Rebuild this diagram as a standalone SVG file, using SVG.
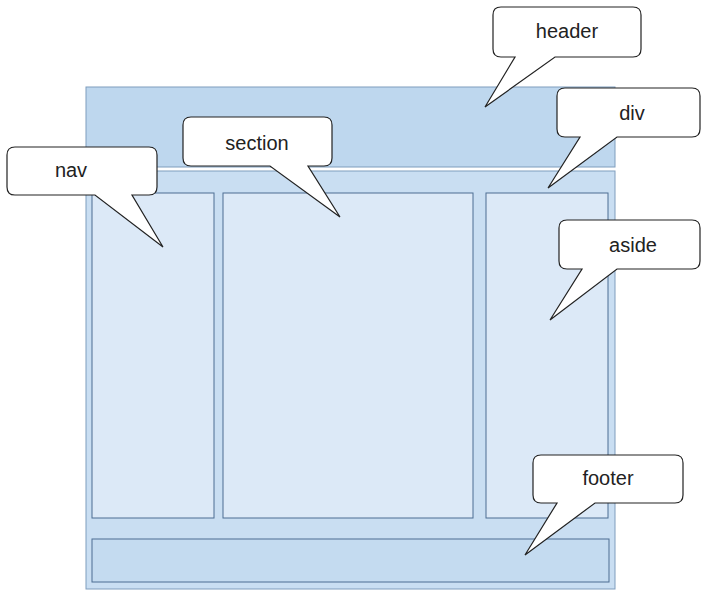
<svg xmlns="http://www.w3.org/2000/svg" width="702" height="590" viewBox="0 0 702 590">
<style>
.outer{stroke:#7f9dbd;stroke-width:1}
.col{fill:#dce9f7;stroke:#4d6d92;stroke-width:1}
.bubble{fill:#ffffff;stroke:#222222;stroke-width:1.2;stroke-linejoin:miter}
.lbl{font-family:"Liberation Sans",Arial,sans-serif;font-size:20px;fill:#222222;text-anchor:middle}
</style>
<rect width="702" height="590" fill="#ffffff"/>
<g id="body">
<rect id="header-area" class="outer" x="86" y="87" width="529" height="80" fill="#bed7ee"/>
<rect id="div-area" class="outer" x="86" y="171" width="529" height="418" fill="#c9def2"/>
<rect id="nav-col" class="col" x="92" y="193" width="122" height="325"/>
<rect id="section-col" class="col" x="223" y="193" width="250" height="325"/>
<rect id="aside-col" class="col" x="486" y="193" width="122" height="325"/>
<rect id="footer-area" x="92" y="539" width="517" height="43" fill="#c4dbf0" stroke="#4d6d92" stroke-width="1"/>
</g>
<g id="connectors"></g>
<g id="header">
<path class="bubble" d="M501,7 H633 Q641,7 641,15 V49 Q641,57 633,57 H555 L485,107 L515,57 H501 Q493,57 493,49 V15 Q493,7 501,7 Z"/>
<text class="lbl" x="567" y="38">header</text>
</g>
<g id="div">
<path class="bubble" d="M565,88 H692 Q700,88 700,96 V129 Q700,137 692,137 H617 L548,188 L580,137 H565 Q557,137 557,129 V96 Q557,88 565,88 Z"/>
<text class="lbl" x="632" y="120">div</text>
</g>
<g id="section">
<path class="bubble" d="M191,117 H324 Q332,117 332,125 V158 Q332,166 324,166 H308 L340,217 L270,166 H191 Q183,166 183,158 V125 Q183,117 191,117 Z"/>
<text class="lbl" x="257" y="150">section</text>
</g>
<g id="nav">
<path class="bubble" d="M15,147 H149 Q157,147 157,155 V187 Q157,195 149,195 H132 L163,247 L95,195 H15 Q7,195 7,187 V155 Q7,147 15,147 Z"/>
<text class="lbl" x="71" y="177">nav</text>
</g>
<g id="aside">
<path class="bubble" d="M567,220 H692 Q700,220 700,228 V261 Q700,269 692,269 H617 L550,320 L582,269 H567 Q559,269 559,261 V228 Q559,220 567,220 Z"/>
<text class="lbl" x="633" y="252">aside</text>
</g>
<g id="footer">
<path class="bubble" d="M541,455 H675 Q683,455 683,463 V495 Q683,503 675,503 H595 L525,555 L557,503 H541 Q533,503 533,495 V463 Q533,455 541,455 Z"/>
<text class="lbl" x="608" y="485">footer</text>
</g>
</svg>
